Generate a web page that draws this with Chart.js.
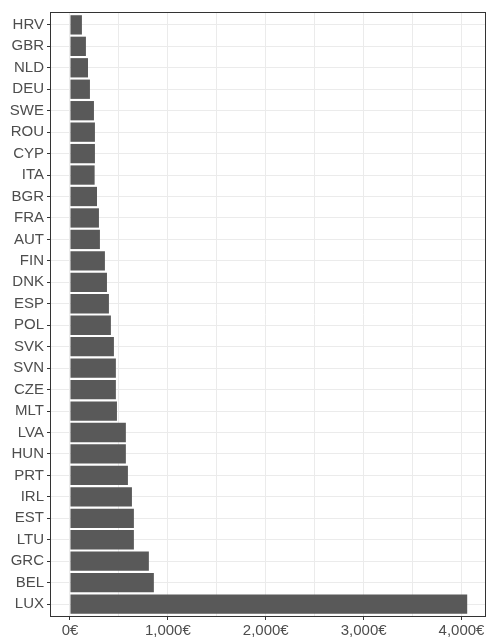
<!DOCTYPE html>
<html>
<head>
<meta charset="utf-8">
<script src="https://cdn.jsdelivr.net/npm/chart.js@4/dist/chart.umd.min.js"></script>
<style>
  html, body { margin: 0; padding: 0; background: #fff; }
</style>
</head>
<body>
<canvas id="myChart" width="487" height="637"></canvas>
<script>
// countries, top to bottom
var countries = ["HRV", "GBR", "NLD", "DEU", "SWE", "ROU", "CYP", "ITA", "BGR", "FRA",
  "AUT", "FIN", "DNK", "ESP", "POL", "SVK", "SVN", "CZE", "MLT", "LVA",
  "HUN", "PRT", "IRL", "EST", "LTU", "GRC", "BEL", "LUX"];
// values in euro
var values = [122, 163, 184, 204, 245, 255, 255, 252, 276, 296,
  306, 357, 378, 398, 418, 449, 469, 469, 480, 571,
  571, 592, 633, 653, 653, 806, 857, 4058];
var xTicks = [0, 500, 1000, 1500, 2000, 2500, 3000, 3500, 4000];

var textColor = '#4d4d4d';
var font = { family: '"Liberation Sans", Arial, sans-serif', size: 15 };

// panel border like theme_bw
var borderPlugin = {
  id: 'panelBorder',
  afterDraw: function (chart) {
    var a = chart.chartArea, c = chart.ctx;
    c.save();
    c.strokeStyle = '#333333';
    c.lineWidth = 1;
    c.strokeRect(a.left + 0.5, a.top + 0.5, a.right - a.left - 1, a.bottom - a.top - 1);
    c.restore();
  }
};

var ctx = document.getElementById('myChart').getContext('2d');
var chart = new Chart(ctx, {
  type: 'bar',
  data: {
    datasets: [{
      data: values.map(function (v, i) { return { x: v, y: i }; }),
      backgroundColor: '#595959',
      borderWidth: 0,
      barPercentage: 0.9,
      categoryPercentage: 1
    }]
  },
  options: {
    indexAxis: 'y',
    responsive: false,
    animation: false,
    layout: { padding: { top: 12, right: 1, left: 0, bottom: 0 } },
    plugins: { legend: { display: false }, tooltip: { enabled: false } },
    scales: {
      x: {
        type: 'linear',
        min: -204,
        max: 4250,
        afterBuildTicks: function (scale) {
          scale.ticks = xTicks.map(function (v) { return { value: v }; });
        },
        afterFit: function (scale) { scale.height = 20; },
        ticks: {
          color: textColor,
          font: font,
          padding: 2,
          maxRotation: 0,
          callback: function (v) {
            return v % 1000 === 0 ? v.toLocaleString('en-US') + '€' : '';
          }
        },
        grid: {
          color: '#ebebeb',
          lineWidth: 1,
          tickLength: 3,
          tickColor: function (c) {
            return c.tick && c.tick.value % 1000 === 0 ? '#333333' : 'rgba(0,0,0,0)';
          }
        },
        border: { display: false }
      },
      y: {
        type: 'linear',
        reverse: true,
        offset: false,
        min: -0.6,
        max: 27.6,
        afterBuildTicks: function (scale) {
          scale.ticks = countries.map(function (c, i) { return { value: i }; });
        },
        afterFit: function (scale) { scale.width = 50; },
        ticks: {
          color: textColor,
          font: font,
          padding: 3,
          autoSkip: false,
          callback: function (v) { return countries[v]; }
        },
        grid: {
          offset: false,
          color: '#ebebeb',
          lineWidth: 1,
          tickLength: 3,
          tickColor: '#333333'
        },
        border: { display: false }
      }
    }
  },
  plugins: [borderPlugin]
});
</script>
</body>
</html>
